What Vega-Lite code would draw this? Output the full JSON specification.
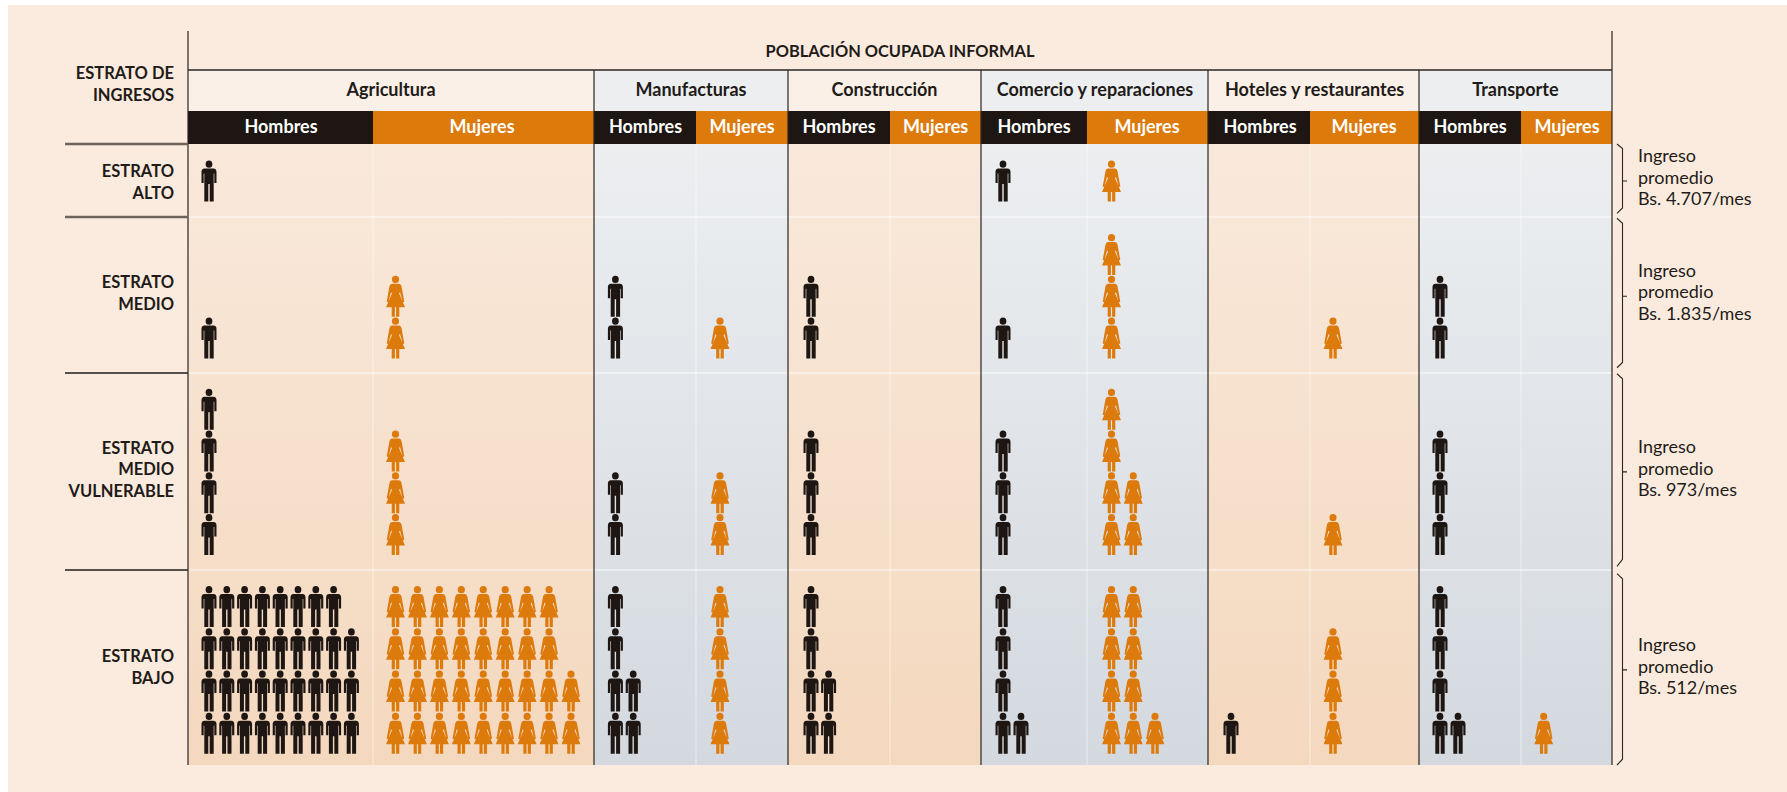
{"$schema":"https://vega.github.io/schema/vega-lite/v6.json","width":1787,"height":792,"padding":0,"autosize":{"type":"fit","contains":"padding"},"background":"#ffffff","config":{"view":{"stroke":null}},
"datasets":{
"pagina":[{"col":1401,"col2":1420,"fila":80,"fila2":-20}],
"calidos":[{"sector":"Agricultura","col":100,"col2":300,"fila":49,"fila2":0},{"sector":"Construcción","col":500,"col2":700,"fila":49,"fila2":0},{"sector":"Hoteles y restaurantes","col":900,"col2":1100,"fila":49,"fila2":0}],
"grises":[{"sector":"Manufacturas","col":300,"col2":500,"fila":49,"fila2":0},{"sector":"Comercio y reparaciones","col":700,"col2":900,"fila":49,"fila2":0},{"sector":"Transporte","col":1100,"col2":1310,"fila":49,"fila2":0}],
"cabCalidas":[{"sector":"Agricultura","col":100,"col2":300,"fila":60,"fila2":51},{"sector":"Construcción","col":500,"col2":700,"fila":60,"fila2":51},{"sector":"Hoteles y restaurantes","col":900,"col2":1100,"fila":60,"fila2":51}],
"cabGrises":[{"sector":"Manufacturas","col":300,"col2":500,"fila":60,"fila2":51},{"sector":"Comercio y reparaciones","col":700,"col2":900,"fila":60,"fila2":51},{"sector":"Transporte","col":1100,"col2":1310,"fila":60,"fila2":51}],
"sectores":[{"sector":"Agricultura","col":1301,"fila":55},{"sector":"Manufacturas","col":1302,"fila":55},{"sector":"Construcción","col":1303,"fila":55},{"sector":"Comercio y reparaciones","col":1304,"fila":55},{"sector":"Hoteles y restaurantes","col":1305,"fila":55},{"sector":"Transporte","col":1306,"fila":55}],
"sexos":[
{"sexo":"Hombres","col":100,"col2":200,"fila":51,"fila2":49},{"sexo":"Mujeres","col":200,"col2":300,"fila":51,"fila2":49},
{"sexo":"Hombres","col":300,"col2":400,"fila":51,"fila2":49},{"sexo":"Mujeres","col":400,"col2":500,"fila":51,"fila2":49},
{"sexo":"Hombres","col":500,"col2":600,"fila":51,"fila2":49},{"sexo":"Mujeres","col":600,"col2":700,"fila":51,"fila2":49},
{"sexo":"Hombres","col":700,"col2":800,"fila":51,"fila2":49},{"sexo":"Mujeres","col":800,"col2":900,"fila":51,"fila2":49},
{"sexo":"Hombres","col":900,"col2":1000,"fila":51,"fila2":49},{"sexo":"Mujeres","col":1000,"col2":1100,"fila":51,"fila2":49},
{"sexo":"Hombres","col":1100,"col2":1200,"fila":51,"fila2":49},{"sexo":"Mujeres","col":1200,"col2":1310,"fila":51,"fila2":49}],
"sexosTexto":[{"sexo":"Hombres","col":150,"fila":50},{"sexo":"Mujeres","col":250,"fila":50},{"sexo":"Hombres","col":350,"fila":50},{"sexo":"Mujeres","col":450,"fila":50},{"sexo":"Hombres","col":550,"fila":50},{"sexo":"Mujeres","col":650,"fila":50},{"sexo":"Hombres","col":750,"fila":50},{"sexo":"Mujeres","col":850,"fila":50},{"sexo":"Hombres","col":950,"fila":50},{"sexo":"Mujeres","col":1050,"fila":50},{"sexo":"Hombres","col":1150,"fila":50},{"sexo":"Mujeres","col":1250,"fila":50}],
"estratos":[{"t":"ESTRATO\nALTO","col":1403,"fila":42.95},{"t":"ESTRATO\nMEDIO","col":1403,"fila":32.31},{"t":"ESTRATO\nMEDIO\nVULNERABLE","col":1403,"fila":23.05},{"t":"ESTRATO\nBAJO","col":1403,"fila":12.8},{"t":"ESTRATO DE\nINGRESOS","col":1403,"fila":59.02}],
"ingresos":[{"t":"Ingreso\npromedio\nBs. 4.707/mes","col":1413,"fila":46.19},{"t":"Ingreso\npromedio\nBs. 1.835/mes","col":1413,"fila":32.59},{"t":"Ingreso\npromedio\nBs. 973/mes","col":1413,"fila":23.07},{"t":"Ingreso\npromedio\nBs. 512/mes","col":1413,"fila":13.06}],
"titulo":[{"t":"POBLACIÓN OCUPADA INFORMAL","col":1404,"fila":65}],
"llaves":[
{"e":"Alto","o":1,"col":1410,"fila":49},{"e":"Alto","o":2,"col":1411,"fila":48},{"e":"Alto","o":3,"col":1411,"fila":41},{"e":"Alto","o":4,"col":1412,"fila":41},{"e":"Alto","o":5,"col":1411,"fila":41},{"e":"Alto","o":6,"col":1411,"fila":39.5},{"e":"Alto","o":7,"col":1410,"fila":39.2},
{"e":"Medio","o":1,"col":1410,"fila":38.8},{"e":"Medio","o":2,"col":1411,"fila":38},{"e":"Medio","o":3,"col":1411,"fila":32},{"e":"Medio","o":4,"col":1412,"fila":32},{"e":"Medio","o":5,"col":1411,"fila":32},{"e":"Medio","o":6,"col":1411,"fila":29.6},{"e":"Medio","o":7,"col":1410,"fila":29.3},
{"e":"Vuln","o":1,"col":1410,"fila":28.9},{"e":"Vuln","o":2,"col":1411,"fila":28.2},{"e":"Vuln","o":3,"col":1411,"fila":22.5},{"e":"Vuln","o":4,"col":1412,"fila":22.5},{"e":"Vuln","o":5,"col":1411,"fila":22.5},{"e":"Vuln","o":6,"col":1411,"fila":19.6},{"e":"Vuln","o":7,"col":1410,"fila":19.2},
{"e":"Bajo","o":1,"col":1410,"fila":18.5},{"e":"Bajo","o":2,"col":1411,"fila":17.8},{"e":"Bajo","o":3,"col":1411,"fila":12.5},{"e":"Bajo","o":4,"col":1412,"fila":12.5},{"e":"Bajo","o":5,"col":1411,"fila":12.5},{"e":"Bajo","o":6,"col":1411,"fila":2},{"e":"Bajo","o":7,"col":1410,"fila":0}],
"figuras":[
{"sexo":"Hombres","col":101,"fila":41},{"sexo":"Hombres","col":701,"fila":41},{"sexo":"Mujeres","col":801,"fila":41},
{"sexo":"Hombres","col":101,"fila":31},{"sexo":"Mujeres","col":201,"fila":31},{"sexo":"Mujeres","col":201,"fila":32},{"sexo":"Hombres","col":301,"fila":31},{"sexo":"Hombres","col":301,"fila":32},{"sexo":"Mujeres","col":401,"fila":31},{"sexo":"Hombres","col":501,"fila":31},{"sexo":"Hombres","col":501,"fila":32},{"sexo":"Hombres","col":701,"fila":31},{"sexo":"Mujeres","col":801,"fila":31},{"sexo":"Mujeres","col":801,"fila":32},{"sexo":"Mujeres","col":801,"fila":33},{"sexo":"Mujeres","col":1001,"fila":31},{"sexo":"Hombres","col":1101,"fila":31},{"sexo":"Hombres","col":1101,"fila":32},
{"sexo":"Hombres","col":101,"fila":21},{"sexo":"Hombres","col":101,"fila":22},{"sexo":"Hombres","col":101,"fila":23},{"sexo":"Hombres","col":101,"fila":24},{"sexo":"Mujeres","col":201,"fila":21},{"sexo":"Mujeres","col":201,"fila":22},{"sexo":"Mujeres","col":201,"fila":23},{"sexo":"Hombres","col":301,"fila":21},{"sexo":"Hombres","col":301,"fila":22},{"sexo":"Mujeres","col":401,"fila":21},{"sexo":"Mujeres","col":401,"fila":22},{"sexo":"Hombres","col":501,"fila":21},{"sexo":"Hombres","col":501,"fila":22},{"sexo":"Hombres","col":501,"fila":23},{"sexo":"Hombres","col":701,"fila":21},{"sexo":"Hombres","col":701,"fila":22},{"sexo":"Hombres","col":701,"fila":23},{"sexo":"Mujeres","col":801,"fila":21},{"sexo":"Mujeres","col":802,"fila":21},{"sexo":"Mujeres","col":801,"fila":22},{"sexo":"Mujeres","col":802,"fila":22},{"sexo":"Mujeres","col":801,"fila":23},{"sexo":"Mujeres","col":801,"fila":24},{"sexo":"Mujeres","col":1001,"fila":21},{"sexo":"Hombres","col":1101,"fila":21},{"sexo":"Hombres","col":1101,"fila":22},{"sexo":"Hombres","col":1101,"fila":23},
{"sexo":"Hombres","col":101,"fila":11},{"sexo":"Hombres","col":102,"fila":11},{"sexo":"Hombres","col":103,"fila":11},{"sexo":"Hombres","col":104,"fila":11},{"sexo":"Hombres","col":105,"fila":11},{"sexo":"Hombres","col":106,"fila":11},{"sexo":"Hombres","col":107,"fila":11},{"sexo":"Hombres","col":108,"fila":11},{"sexo":"Hombres","col":109,"fila":11},
{"sexo":"Hombres","col":101,"fila":12},{"sexo":"Hombres","col":102,"fila":12},{"sexo":"Hombres","col":103,"fila":12},{"sexo":"Hombres","col":104,"fila":12},{"sexo":"Hombres","col":105,"fila":12},{"sexo":"Hombres","col":106,"fila":12},{"sexo":"Hombres","col":107,"fila":12},{"sexo":"Hombres","col":108,"fila":12},{"sexo":"Hombres","col":109,"fila":12},
{"sexo":"Hombres","col":101,"fila":13},{"sexo":"Hombres","col":102,"fila":13},{"sexo":"Hombres","col":103,"fila":13},{"sexo":"Hombres","col":104,"fila":13},{"sexo":"Hombres","col":105,"fila":13},{"sexo":"Hombres","col":106,"fila":13},{"sexo":"Hombres","col":107,"fila":13},{"sexo":"Hombres","col":108,"fila":13},{"sexo":"Hombres","col":109,"fila":13},
{"sexo":"Hombres","col":101,"fila":14},{"sexo":"Hombres","col":102,"fila":14},{"sexo":"Hombres","col":103,"fila":14},{"sexo":"Hombres","col":104,"fila":14},{"sexo":"Hombres","col":105,"fila":14},{"sexo":"Hombres","col":106,"fila":14},{"sexo":"Hombres","col":107,"fila":14},{"sexo":"Hombres","col":108,"fila":14},
{"sexo":"Mujeres","col":201,"fila":11},{"sexo":"Mujeres","col":202,"fila":11},{"sexo":"Mujeres","col":203,"fila":11},{"sexo":"Mujeres","col":204,"fila":11},{"sexo":"Mujeres","col":205,"fila":11},{"sexo":"Mujeres","col":206,"fila":11},{"sexo":"Mujeres","col":207,"fila":11},{"sexo":"Mujeres","col":208,"fila":11},{"sexo":"Mujeres","col":209,"fila":11},
{"sexo":"Mujeres","col":201,"fila":12},{"sexo":"Mujeres","col":202,"fila":12},{"sexo":"Mujeres","col":203,"fila":12},{"sexo":"Mujeres","col":204,"fila":12},{"sexo":"Mujeres","col":205,"fila":12},{"sexo":"Mujeres","col":206,"fila":12},{"sexo":"Mujeres","col":207,"fila":12},{"sexo":"Mujeres","col":208,"fila":12},{"sexo":"Mujeres","col":209,"fila":12},
{"sexo":"Mujeres","col":201,"fila":13},{"sexo":"Mujeres","col":202,"fila":13},{"sexo":"Mujeres","col":203,"fila":13},{"sexo":"Mujeres","col":204,"fila":13},{"sexo":"Mujeres","col":205,"fila":13},{"sexo":"Mujeres","col":206,"fila":13},{"sexo":"Mujeres","col":207,"fila":13},{"sexo":"Mujeres","col":208,"fila":13},
{"sexo":"Mujeres","col":201,"fila":14},{"sexo":"Mujeres","col":202,"fila":14},{"sexo":"Mujeres","col":203,"fila":14},{"sexo":"Mujeres","col":204,"fila":14},{"sexo":"Mujeres","col":205,"fila":14},{"sexo":"Mujeres","col":206,"fila":14},{"sexo":"Mujeres","col":207,"fila":14},{"sexo":"Mujeres","col":208,"fila":14},
{"sexo":"Hombres","col":301,"fila":11},{"sexo":"Hombres","col":302,"fila":11},{"sexo":"Hombres","col":301,"fila":12},{"sexo":"Hombres","col":302,"fila":12},{"sexo":"Hombres","col":301,"fila":13},{"sexo":"Hombres","col":301,"fila":14},
{"sexo":"Mujeres","col":401,"fila":11},{"sexo":"Mujeres","col":401,"fila":12},{"sexo":"Mujeres","col":401,"fila":13},{"sexo":"Mujeres","col":401,"fila":14},
{"sexo":"Hombres","col":501,"fila":11},{"sexo":"Hombres","col":502,"fila":11},{"sexo":"Hombres","col":501,"fila":12},{"sexo":"Hombres","col":502,"fila":12},{"sexo":"Hombres","col":501,"fila":13},{"sexo":"Hombres","col":501,"fila":14},
{"sexo":"Hombres","col":701,"fila":11},{"sexo":"Hombres","col":702,"fila":11},{"sexo":"Hombres","col":701,"fila":12},{"sexo":"Hombres","col":701,"fila":13},{"sexo":"Hombres","col":701,"fila":14},
{"sexo":"Mujeres","col":801,"fila":11},{"sexo":"Mujeres","col":802,"fila":11},{"sexo":"Mujeres","col":803,"fila":11},{"sexo":"Mujeres","col":801,"fila":12},{"sexo":"Mujeres","col":802,"fila":12},{"sexo":"Mujeres","col":801,"fila":13},{"sexo":"Mujeres","col":802,"fila":13},{"sexo":"Mujeres","col":801,"fila":14},{"sexo":"Mujeres","col":802,"fila":14},
{"sexo":"Hombres","col":901,"fila":11},{"sexo":"Mujeres","col":1001,"fila":11},{"sexo":"Mujeres","col":1001,"fila":12},{"sexo":"Mujeres","col":1001,"fila":13},
{"sexo":"Hombres","col":1101,"fila":11},{"sexo":"Hombres","col":1102,"fila":11},{"sexo":"Hombres","col":1101,"fila":12},{"sexo":"Hombres","col":1101,"fila":13},{"sexo":"Hombres","col":1101,"fila":14},{"sexo":"Mujeres","col":1201,"fila":11}]
},
"encoding":{
"x":{"field":"col","type":"quantitative","axis":null,"scale":{"nice":false,"zero":false,"domain":[100,101,109,150,200,201,209,250,300,301,302,350,400,401,450,500,501,502,550,600,650,700,701,702,750,800,801,803,850,900,901,950,1000,1001,1050,1100,1101,1102,1150,1200,1201,1250,1301,1302,1303,1304,1305,1306,1310,1400,1401,1402,1403,1404,1410,1411,1412,1413,1420],"range":[188,209,351.4,281,373,395.5,571,482,594,615.4,633.2,645.5,696,720,742,788,811,828.6,839,890,935.6,981,1003,1021,1034,1087,1111.5,1155,1147,1208,1231,1260,1310,1333,1364,1419,1440,1458,1470,1521,1543.7,1567,391,691,884.5,1095,1314.6,1515.4,1612,0,8,65,174,900,1617,1622.5,1627,1638,1787]}},
"y":{"field":"fila","type":"quantitative","axis":null,"scale":{"nice":false,"zero":false,"domain":[-20,0,11,14,19,21,24,29,31,33,39,41,49,50,51,55,60,65,70,80],"range":[792,765,733.2,606.5,570,534.5,409.2,373,338,254.5,217,181,144,127.5,111,90.5,70,51,31,5]}}
},
"layer":[
{"data":{"name":"pagina"},"mark":{"type":"rect","color":"#fbebde"},"encoding":{"x2":{"field":"col2"},"y2":{"field":"fila2"}}},
{"data":{"name":"calidos"},"mark":{"type":"rect","color":{"gradient":"linear","x1":0,"y1":0,"x2":0,"y2":1,"stops":[{"offset":0,"color":"#f9e9db"},{"offset":1,"color":"#f4d8be"}]}},"encoding":{"x2":{"field":"col2"},"y2":{"field":"fila2"}}},
{"data":{"name":"grises"},"mark":{"type":"rect","color":{"gradient":"linear","x1":0,"y1":0,"x2":0,"y2":1,"stops":[{"offset":0,"color":"#eceef0"},{"offset":1,"color":"#d4d9df"}]}},"encoding":{"x2":{"field":"col2"},"y2":{"field":"fila2"}}},
{"data":{"name":"cabCalidas"},"mark":{"type":"rect","color":"#fbf0e7"},"encoding":{"x2":{"field":"col2"},"y2":{"field":"fila2"}}},
{"data":{"name":"cabGrises"},"mark":{"type":"rect","color":"#eceef0"},"encoding":{"x2":{"field":"col2"},"y2":{"field":"fila2"}}},
{"data":{"name":"sexos"},"mark":{"type":"rect"},"encoding":{"x2":{"field":"col2"},"y2":{"field":"fila2"},"color":{"field":"sexo","type":"nominal","legend":null,"scale":{"domain":["Hombres","Mujeres"],"range":["#1d1613","#dd7a0c"]}}}},
{"data":{"values":[{"col":100,"col2":1310,"fila":39},{"col":100,"col2":1310,"fila":29},{"col":100,"col2":1310,"fila":19}]},"mark":{"type":"rule","color":"#ffffff","strokeWidth":2,"opacity":0.45},"encoding":{"x2":{"field":"col2"}}},
{"data":{"values":[{"col":200,"fila":49,"fila2":0},{"col":400,"fila":49,"fila2":0},{"col":600,"fila":49,"fila2":0},{"col":800,"fila":49,"fila2":0},{"col":1000,"fila":49,"fila2":0},{"col":1200,"fila":49,"fila2":0}]},"mark":{"type":"rule","color":"#ffffff","strokeWidth":1.5,"opacity":0.35},"encoding":{"y2":{"field":"fila2"}}},
{"data":{"values":[{"col":300,"fila":60,"fila2":0},{"col":500,"fila":60,"fila2":0},{"col":700,"fila":60,"fila2":0},{"col":900,"fila":60,"fila2":0},{"col":1100,"fila":60,"fila2":0},{"col":100,"fila":70,"fila2":0},{"col":1310,"fila":70,"fila2":0}]},"mark":{"type":"rule","color":"#2a2623","strokeWidth":1.2},"encoding":{"y2":{"field":"fila2"}}},
{"data":{"values":[{"col":100,"col2":1310,"fila":60}]},"mark":{"type":"rule","color":"#2a2623","strokeWidth":1.5},"encoding":{"x2":{"field":"col2"}}},
{"data":{"values":[{"col":1402,"col2":100,"fila":49},{"col":1402,"col2":100,"fila":39}]},"mark":{"type":"rule","color":"#6e645b","strokeWidth":2.5},"encoding":{"x2":{"field":"col2"}}},
{"data":{"values":[{"col":1402,"col2":100,"fila":29},{"col":1402,"col2":100,"fila":19}]},"mark":{"type":"rule","color":"#1f1b18","strokeWidth":1.6},"encoding":{"x2":{"field":"col2"}}},
{"data":{"name":"llaves"},"mark":{"type":"line","color":"#2a2623","strokeWidth":1.1},"encoding":{"detail":{"field":"e"},"order":{"field":"o"}}},
{"data":{"name":"figuras"},"transform":[{"filter":"datum.sexo=='Hombres'"}],"mark":{"type":"point","filled":true,"opacity":1,"size":1681,"strokeWidth":0,"shape":"M0,-1Q0.165,-1 0.165,-0.82Q0.165,-0.645 0,-0.645Q-0.165,-0.645 -0.165,-0.82Q-0.165,-1 0,-1ZM-0.22,-0.61L0.22,-0.61Q0.366,-0.61 0.366,-0.439L0.366,0.098L0.259,0.098L0.259,-0.366L0.229,-0.366L0.229,1L0.034,1L0.034,0.146L-0.034,0.146L-0.034,1L-0.229,1L-0.229,-0.366L-0.259,-0.366L-0.259,0.098L-0.366,0.098L-0.366,-0.439Q-0.366,-0.61 -0.22,-0.61Z"},"encoding":{"color":{"field":"sexo","type":"nominal","legend":null,"scale":{"domain":["Hombres","Mujeres"],"range":["#1d1613","#dd7a0c"]}}}},
{"data":{"name":"figuras"},"transform":[{"filter":"datum.sexo=='Mujeres'"}],"mark":{"type":"point","filled":true,"opacity":1,"size":1681,"strokeWidth":0,"shape":"M0,-1Q0.175,-1 0.175,-0.82Q0.175,-0.645 0,-0.645Q-0.175,-0.645 -0.175,-0.82Q-0.175,-1 0,-1ZM-0.171,-0.61L0.171,-0.61Q0.268,-0.61 0.293,-0.488L0.429,0.268L0.351,0.293L0.22,-0.195L0.171,-0.146L0.463,0.537L0.185,0.537L0.185,1L0.029,1L0.029,0.537L-0.029,0.537L-0.029,1L-0.185,1L-0.185,0.537L-0.463,0.537L-0.171,-0.146L-0.22,-0.195L-0.351,0.293L-0.429,0.268L-0.293,-0.488Q-0.268,-0.61 -0.171,-0.61Z"},"encoding":{"color":{"field":"sexo","type":"nominal","legend":null,"scale":{"domain":["Hombres","Mujeres"],"range":["#1d1613","#dd7a0c"]}}}},
{"data":{"name":"sexosTexto"},"mark":{"type":"text","font":"Lato","fontSize":18,"fontWeight":"bold","color":"#ffffff","align":"center","baseline":"middle"},"encoding":{"text":{"field":"sexo"}}},
{"data":{"name":"sectores"},"mark":{"type":"text","font":"Lato","fontSize":18,"fontWeight":"bold","color":"#1f1b18","align":"center","baseline":"middle"},"encoding":{"text":{"field":"sector"}}},
{"data":{"name":"titulo"},"mark":{"type":"text","font":"Lato","fontSize":16.4,"fontWeight":"bold","color":"#1f1b18","align":"center","baseline":"middle","dy":1},"encoding":{"text":{"field":"t"}}},
{"data":{"name":"estratos"},"mark":{"type":"text","font":"Lato","fontSize":16.5,"fontWeight":"bold","color":"#1f1b18","align":"right","baseline":"middle","lineBreak":"\n","lineHeight":21.6},"encoding":{"text":{"field":"t"}}},
{"data":{"name":"ingresos"},"mark":{"type":"text","font":"Lato","fontSize":18,"color":"#1f1b18","align":"left","baseline":"middle","lineBreak":"\n","lineHeight":21.6},"encoding":{"text":{"field":"t"}}}
]}
